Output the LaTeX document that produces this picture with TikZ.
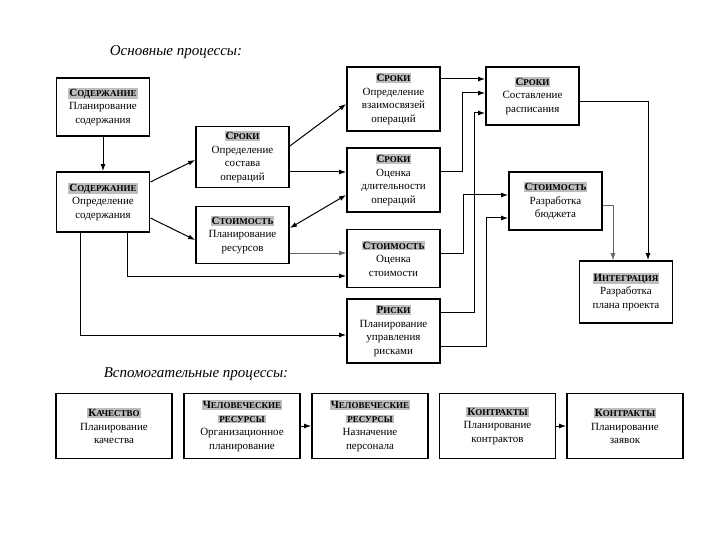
\documentclass[tikz,border=0pt]{standalone}
\usepackage{fontspec}
\setmainfont{Liberation Serif}
\usetikzlibrary{arrows.meta}
\definecolor{hdrgray}{gray}{0.74}
\setlength{\fboxsep}{1pt}
\newcommand{\hdr}[2]{\colorbox{hdrgray}{\textbf{#1\fontsize{9}{11}\selectfont #2}}}
\tikzset{
  box/.style={draw, line width=1.8pt, minimum width=93pt, inner sep=1pt, align=center,
    font=\fontsize{11}{13.5}\selectfont},
  sbox/.style={box, minimum width=116pt, minimum height=65pt},
  arr/.style={-{Latex[length=7pt,width=5pt]}, line width=1pt},
  garr/.style={-{Latex[length=7pt,width=5pt]}, line width=0.6pt, draw=black!60},
}
\begin{document}
\begin{tikzpicture}[x=1pt,y=-1pt]
    \useasboundingbox[fill=white] (0,0) rectangle (720,540);

    \node[font=\fontsize{15}{18}\selectfont\itshape] (main) at (176,52) {Основные процессы:};
    \node[font=\fontsize{15}{18}\selectfont\itshape] (aux) at (196,374) {Вспомогательные процессы:};

    \node[box, minimum height=58] (s1) at (103,107) {\hdr{С}{ОДЕРЖАНИЕ}\\Планирование\\содержания};
    \node[box, minimum height=60] (s2) at (103,202) {\hdr{С}{ОДЕРЖАНИЕ}\\Определение\\содержания};
    \node[box, minimum height=61] (t1) at (242.5,157) {\hdr{С}{РОКИ}\\Определение\\состава\\операций};
    \node[box, minimum height=57] (c1) at (242.5,235) {\hdr{С}{ТОИМОСТЬ}\\Планирование\\ресурсов};
    \node[box, minimum height=64] (t2) at (393.5,99) {\hdr{С}{РОКИ}\\Определение\\взаимосвязей\\операций};
    \node[box, minimum height=64] (t3) at (393.5,180) {\hdr{С}{РОКИ}\\Оценка\\длительности\\операций};
    \node[box, minimum height=58] (c2) at (393.5,258.5) {\hdr{С}{ТОИМОСТЬ}\\Оценка\\стоимости};
    \node[box, minimum height=64] (r) at (393.5,331) {\hdr{Р}{ИСКИ}\\Планирование\\управления\\рисками};
    \node[box, minimum height=58] (t4) at (532.5,96) {\hdr{С}{РОКИ}\\Составление\\расписания};
    \node[box, minimum height=58] (c3) at (555.5,201) {\hdr{С}{ТОИМОСТЬ}\\Разработка\\бюджета};
    \node[box, minimum height=62] (in) at (626,292) {\hdr{И}{НТЕГРАЦИЯ}\\Разработка\\плана проекта};

    \node[sbox] (q) at (114,426) {\hdr{К}{АЧЕСТВО}\\Планирование\\качества};
    \node[sbox] (h1) at (242,426) {\hdr{Ч}{ЕЛОВЕЧЕСКИЕ}\\\hdr{}{РЕСУРСЫ}\\Организационное\\планирование};
    \node[sbox] (h2) at (370,426) {\hdr{Ч}{ЕЛОВЕЧЕСКИЕ}\\\hdr{}{РЕСУРСЫ}\\Назначение\\персонала};
    \node[sbox] (k1) at (497.5,426) {\hdr{К}{ОНТРАКТЫ}\\Планирование\\контрактов};
    \node[sbox] (k2) at (625,426) {\hdr{К}{ОНТРАКТЫ}\\Планирование\\заявок};

    \draw[arr] (s1) -- (s2);
    \draw[arr] (s2.east |- 0,182) -- (t1.west |- 0,160);
    \draw[arr] (s2.east |- 0,218) -- (c1.west |- 0,240);
    \draw[arr] (s2.south -| 127,0) |- (c2.west |- 0,276);
    \draw[arr] (s2.south -| 80,0) |- (r.west |- 0,335);

    \draw[arr] (t1.east |- 0,146) -- (t2.west |- 0,104);
    \draw[arr] (t1.east |- 0,172) -- (t3.west |- 0,172);
    \draw[{Latex[length=7pt,width=5pt]}-{Latex[length=7pt,width=5pt]}, line width=1pt]
        (c1.east |- 0,228) -- (t3.west |- 0,195);
    \draw[garr] (c1.east |- 0,253) -- (c2.west |- 0,253);

    \draw[arr] (t2.east |- 0,79) -- (t4.west |- 0,79);
    \draw[arr] (t3.east |- 0,172) -- (462,172) |- (t4.west |- 0,93);
    \draw[arr] (r.east |- 0,312) -- (474,312) |- (t4.west |- 0,113);
    \draw[arr] (c2.east |- 0,253) -- (463,253) |- (c3.west |- 0,195);
    \draw[arr] (r.east |- 0,346) -- (486,346) |- (c3.west |- 0,218);

    \draw[arr] (t4.east |- 0,102) -| (in.north -| 648,0);
    \draw[garr] (c3.east |- 0,205) -| (in.north -| 613,0);

    \draw[arr] (h1) -- (h2);
    \draw[arr] (k1) -- (k2);
\end{tikzpicture}
\end{document}
